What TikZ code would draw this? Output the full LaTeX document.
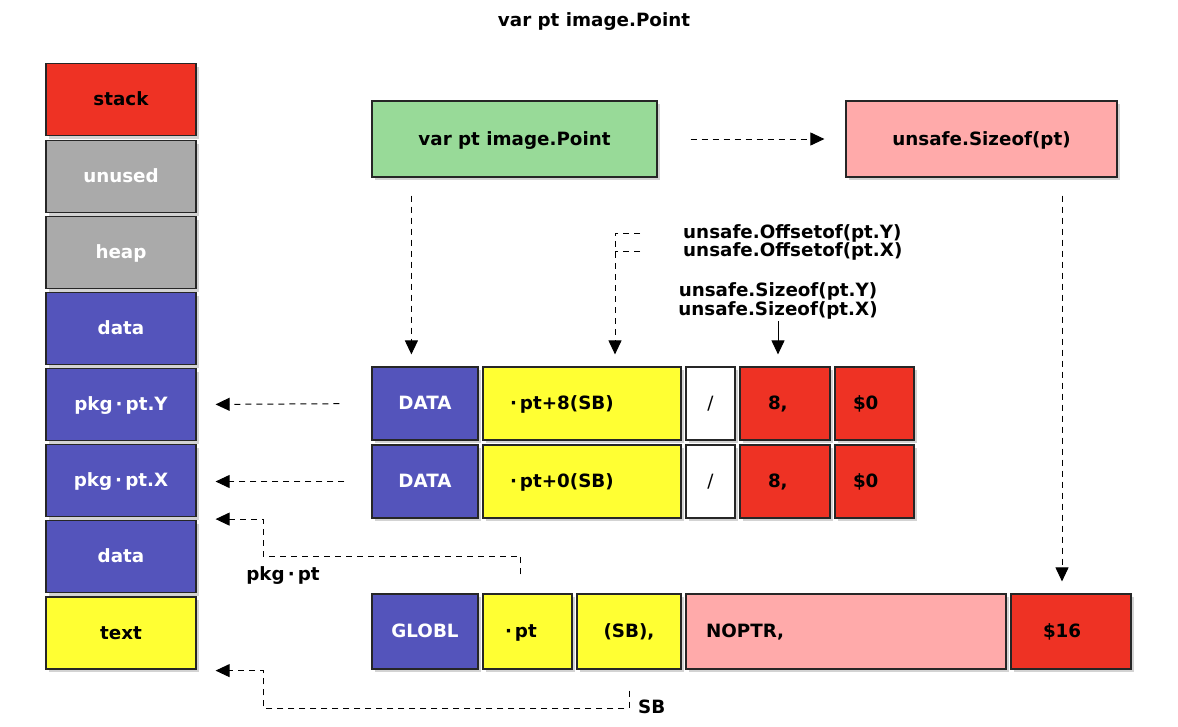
\documentclass[tikz,border=0pt]{standalone}
\usepackage{fontspec}
\setmainfont{DejaVu Sans}
\usetikzlibrary{
    arrows.meta,
    positioning,
    calc,
    shadows
}
\definecolor{segred}{RGB}{238, 50, 36}
\definecolor{seggray}{RGB}{170, 170, 170}
\definecolor{segblue}{RGB}{84, 84, 187}
\definecolor{symyellow}{RGB}{255, 255, 51}
\definecolor{declgreen}{RGB}{152, 218, 152}
\definecolor{sizepink}{RGB}{255, 170, 170}
\newcommand{\lbl}{\fontsize{18.3}{19}\selectfont\bfseries}

\begin{document}
\begin{tikzpicture}[
        x=1pt, y=-1pt,
        box/.style={rectangle, draw=black!85, line width=1.2pt, inner sep=0pt, minimum height=73pt, font=\lbl,
            text height=15pt, text depth=3pt,
            drop shadow={shadow xshift=2.5pt, shadow yshift=-3pt, opacity=0.35}},
        seg/.style={box, minimum width=150pt, minimum height=72pt},
        note/.style={inner sep=0pt, font=\lbl},
        dashline/.style={line width=1pt, dash pattern=on 6pt off 5pt},
        dasharrow/.style={dashline, -{Triangle[length=14pt, width=13pt]}},
        solidarrow/.style={line width=1pt, -{Triangle[length=14pt, width=13pt]}}
    ]
        \useasboundingbox (0,0) rectangle (1178,726);

        \node[note] (title) at (594,22) {var pt image.Point};

        % memory segments
        \node[seg, fill=segred] (stack) at (121,99.5) {stack};
        \node[seg, fill=seggray, text=white] (unused) at (121,176.5) {unused};
        \node[seg, fill=seggray, text=white] (heap) at (121,252.5) {heap};
        \node[seg, fill=segblue, text=white] (datatop) at (121,328.5) {data};
        \node[seg, fill=segblue, text=white] (pkgy) at (121,404.5) {pkg\,·\,pt.Y};
        \node[seg, fill=segblue, text=white] (pkgx) at (121,480.5) {pkg\,·\,pt.X};
        \node[seg, fill=segblue, text=white] (databot) at (121,556.5) {data};
        \node[seg, fill=symyellow] (textseg) at (121,633) {text};

        \node[box, fill=declgreen, minimum width=285pt, minimum height=76pt] (decl) at (514.5,139) {var pt image.Point};
        \node[box, fill=sizepink, minimum width=271pt, minimum height=76pt] (sizeof) at (981.5,139) {unsafe.Sizeof(pt)};

        % DATA rows
        \node[box, fill=segblue, text=white, minimum width=106pt] (datay) at (425,403.5) {DATA};
        \node[box, fill=symyellow, minimum width=198pt, inner xsep=27pt, text width=144pt, align=left] (addry) at (582,403.5) {·\,pt+8(SB)};
        \node[box, fill=white, minimum width=49pt] (flagy) at (710.5,403.5) {\mdseries /};
        \node[box, fill=segred, minimum width=90pt, inner xsep=28pt, text width=34pt, align=left] (widthy) at (785,403.5) {8,};
        \node[box, fill=segred, minimum width=79pt, inner xsep=18pt, text width=43pt, align=left] (valy) at (874.5,403.5) {\$0};

        \node[box, fill=segblue, text=white, minimum width=106pt] (datax) at (425,481.5) {DATA};
        \node[box, fill=symyellow, minimum width=198pt, inner xsep=27pt, text width=144pt, align=left] (addrx) at (582,481.5) {·\,pt+0(SB)};
        \node[box, fill=white, minimum width=49pt] (flagx) at (710.5,481.5) {\mdseries /};
        \node[box, fill=segred, minimum width=90pt, inner xsep=28pt, text width=34pt, align=left] (widthx) at (785,481.5) {8,};
        \node[box, fill=segred, minimum width=79pt, inner xsep=18pt, text width=43pt, align=left] (valx) at (874.5,481.5) {\$0};

        % GLOBL row
        \node[box, fill=segblue, text=white, minimum width=106pt, minimum height=75pt] (globl) at (425,631.5) {GLOBL};
        \node[box, fill=symyellow, minimum width=89pt, minimum height=75pt, inner xsep=22pt, text width=45pt, align=left] (ptsym) at (527.5,631.5) {·\,pt};
        \node[box, fill=symyellow, minimum width=104pt, minimum height=75pt] (sbreg) at (629,631.5) {(SB),};
        \node[box, fill=sizepink, minimum width=320pt, minimum height=75pt, inner xsep=20pt, text width=280pt, align=left] (noptr) at (846,631.5) {NOPTR,};
        \node[box, fill=segred, minimum width=120pt, minimum height=75pt, inner xsep=32pt, text width=56pt, align=left] (total) at (1071,631.5) {\$16};

        % labels
        \node[note, anchor=west] (offy) at (683,233) {unsafe.Offsetof(pt.Y)};
        \node[note, anchor=west] (offx) at (683,251) {unsafe.Offsetof(pt.X)};
        \node[note, align=center] (fieldsz) at (778,300.5) {unsafe.Sizeof(pt.Y)\\unsafe.Sizeof(pt.X)};
        \node[note] (pkgptlbl) at (283,576) {pkg\,·\,pt};
        \node[note, anchor=west] (sblbl) at (638,707) {SB};

        \coordinate (sizecol) at ([xshift=-9pt]total.north);
        \coordinate (pkgbend) at (263,556);
        \coordinate (sbbend) at (263,708);

        \draw[dasharrow, shorten <=33pt, shorten >=21pt] (decl.east) -- (sizeof.west);
        \draw[dasharrow, shorten <=18pt, shorten >=12pt] ([xshift=40pt]decl.south west) -- ([xshift=40pt]datay.north west);
        \draw[dasharrow, shorten <=18pt, shorten >=12pt] (sizecol |- sizeof.south) -- (sizecol);
        \draw[dasharrow, shorten >=12pt] ([xshift=-43pt]offy.west) -| ([xshift=33pt]addry.north);
        \draw[dashline] ([xshift=-43pt]offx.west) -- ([xshift=-68pt]offx.west);
        \draw[solidarrow, shorten <=2pt, shorten >=12pt] (fieldsz.south) -- (fieldsz.south |- widthy.north);
        \draw[dasharrow, shorten <=32pt, shorten >=19pt] (datay.west) -- (pkgy.east);
        \draw[dasharrow, shorten <=27pt, shorten >=19pt] (datax.west) -- (datax.west -| pkgx.east);
        \draw[dasharrow] ([xshift=-7pt, yshift=19pt]ptsym.north) |- (pkgbend) |- ([xshift=19pt, yshift=-2pt]pkgx.south east);
        \draw[dasharrow] ([yshift=-21pt]sbreg.south) |- (sbbend) |- ([xshift=19pt, yshift=-1pt]textseg.south east);
    \end{tikzpicture}
\end{document}
